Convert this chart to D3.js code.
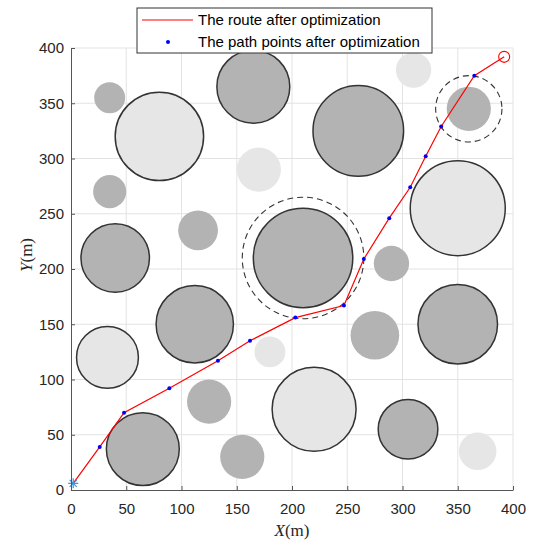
<!DOCTYPE html>
<html>
<head>
<meta charset="utf-8">
<script src="https://cdn.jsdelivr.net/npm/d3@7"></script>
<style>
  body { margin: 0; background: #fff; }
  svg text { font-family: "Liberation Sans", Arial, sans-serif; }
</style>
</head>
<body>
<div class="svg-container"></div>
<script>
// obstacles: centre, radius, shade (0 = dark, 1 = light), outlined (1) or not (0)
var obsX = [35, 80, 165, 170, 260, 310, 360, 35, 115, 40, 210, 290, 350, 112, 180, 275, 350, 33, 125, 220, 65, 155, 305, 368];
var obsY = [355, 320, 365, 290, 325, 380, 345, 270, 235, 210, 210, 205, 255, 150, 125, 140, 150, 120, 80, 73, 37, 30, 55, 35];
var obsR = [14, 40, 33, 20, 41, 16, 20, 15, 18, 31, 45, 16, 43, 35, 14, 22, 36, 28, 20, 38, 33, 20, 27, 17];
var obsShade = [0, 1, 0, 1, 0, 1, 0, 0, 0, 0, 0, 0, 1, 0, 1, 0, 0, 1, 0, 1, 0, 0, 0, 1];
var obsEdge = [0, 1, 1, 0, 1, 0, 0, 0, 0, 1, 1, 0, 1, 1, 0, 0, 1, 1, 0, 1, 1, 0, 1, 0];

// dashed safety rings
var ringX = [210, 360];
var ringY = [210, 345];
var ringR = [55, 30];

// optimized path points
var pathX = [2, 26, 48, 89, 133, 162, 203, 247, 265, 288, 307, 321, 335, 365];
var pathY = [6, 39, 70, 92, 117, 135, 156, 167, 209, 246, 274, 302, 329, 375];
var goal = [392, 392];

var ticks = [0, 50, 100, 150, 200, 250, 300, 350, 400];
var legendLabels = ["The route after optimization", "The path points after optimization"];

var width = 535, height = 545;
var plotLeft = 71, plotTop = 48, plotSize = 442;

var svg = d3.select(".svg-container").append("svg")
    .attr("width", width)
    .attr("height", height);

var x = d3.scaleLinear().domain([0, 400]).range([plotLeft, plotLeft + plotSize]);
var y = d3.scaleLinear().domain([0, 400]).range([plotTop + plotSize, plotTop]);
var k = plotSize / 400;

// grid
svg.append("g").selectAll("line")
    .data(ticks.slice(1)).enter().append("line")
    .attr("x1", d => x(d)).attr("x2", d => x(d))
    .attr("y1", y(0)).attr("y2", y(400))
    .attr("stroke", "#e3e3e3").attr("stroke-width", 1);
svg.append("g").selectAll("line")
    .data(ticks.slice(1)).enter().append("line")
    .attr("x1", x(0)).attr("x2", x(400))
    .attr("y1", d => y(d)).attr("y2", d => y(d))
    .attr("stroke", "#e3e3e3").attr("stroke-width", 1);

// obstacles
var obs = obsX.map((d, i) => ({x: d, y: obsY[i], r: obsR[i], shade: obsShade[i], edge: obsEdge[i]}));
svg.append("g").selectAll("circle")
    .data(obs).enter().append("circle")
    .attr("cx", d => x(d.x))
    .attr("cy", d => y(d.y))
    .attr("r", d => d.r * k)
    .attr("fill", d => d.shade ? "#e6e6e6" : "#b3b3b3")
    .attr("stroke", d => d.edge ? "#333" : "none")
    .attr("stroke-width", 1.5);

// safety rings
svg.append("g").selectAll("circle")
    .data(ringX).enter().append("circle")
    .attr("cx", d => x(d))
    .attr("cy", (d, i) => y(ringY[i]))
    .attr("r", (d, i) => ringR[i] * k)
    .attr("fill", "none")
    .attr("stroke", "#333")
    .attr("stroke-width", 1.1)
    .attr("stroke-dasharray", "6,4");

// route
var route = pathX.map((d, i) => [d, pathY[i]]).concat([goal]);
var line = d3.line().x(d => x(d[0])).y(d => y(d[1]));
svg.append("path")
    .datum(route)
    .attr("d", line)
    .attr("fill", "none")
    .attr("stroke", "#ff0000")
    .attr("stroke-width", 1.2);

// path points (skip the start)
svg.append("g").selectAll("circle")
    .data(route.slice(1, pathX.length)).enter().append("circle")
    .attr("cx", d => x(d[0]))
    .attr("cy", d => y(d[1]))
    .attr("r", 2)
    .attr("fill", "#0000ff");

// start asterisk
var sx = x(pathX[0]), sy = y(pathY[0]);
var star = svg.append("g").attr("transform", "translate(" + sx + "," + sy + ")");
[0, 45, 90, 135].forEach(function(a) {
    star.append("line")
        .attr("x1", -5).attr("x2", 5).attr("y1", 0).attr("y2", 0)
        .attr("transform", "rotate(" + a + ")")
        .attr("stroke", "#3d8fd8").attr("stroke-width", 1.2);
});

// goal
svg.append("circle")
    .attr("cx", x(goal[0])).attr("cy", y(goal[1]))
    .attr("r", 5.5)
    .attr("fill", "none")
    .attr("stroke", "#ff0000")
    .attr("stroke-width", 1.1);

// axes
var xAxis = svg.append("g")
    .attr("transform", "translate(0," + y(0) + ")")
    .call(d3.axisBottom(x).tickValues(ticks).tickSizeInner(-4).tickSizeOuter(0).tickPadding(13));
var yAxis = svg.append("g")
    .attr("transform", "translate(" + x(0) + ",0)")
    .call(d3.axisLeft(y).tickValues(ticks).tickSizeInner(-4).tickSizeOuter(0).tickPadding(7));
[xAxis, yAxis].forEach(function(a) {
    a.select(".domain").attr("stroke", "#555");
    a.selectAll(".tick line").attr("stroke", "#555");
    a.selectAll("text")
        .attr("fill", "#262626")
        .style("font-size", "15px")
        .style("font-family", "'Liberation Sans', Arial, sans-serif");
});

// axis labels
var xl = svg.append("text")
    .attr("x", x(200)).attr("y", 536)
    .attr("text-anchor", "middle")
    .style("font-family", "'Liberation Serif', 'Times New Roman', serif")
    .style("font-size", "17px")
    .attr("fill", "#262626");
xl.append("tspan").style("font-style", "italic").text("X");
xl.append("tspan").text("(m)");

var yl = svg.append("text")
    .attr("transform", "translate(32,255) rotate(-90)")
    .attr("text-anchor", "middle")
    .style("font-family", "'Liberation Serif', 'Times New Roman', serif")
    .style("font-size", "17px")
    .attr("fill", "#262626");
yl.append("tspan").style("font-style", "italic").text("Y");
yl.append("tspan").text("(m)");

// legend
var lg = svg.append("g");
lg.append("rect")
    .attr("x", 137).attr("y", 8)
    .attr("width", 295).attr("height", 45)
    .attr("fill", "#fff")
    .attr("stroke", "#333")
    .attr("stroke-width", 1);
lg.append("line")
    .attr("x1", 142).attr("x2", 193)
    .attr("y1", 20).attr("y2", 20)
    .attr("stroke", "#ff0000").attr("stroke-width", 1.2);
lg.append("circle")
    .attr("cx", 168).attr("cy", 42)
    .attr("r", 2)
    .attr("fill", "#0000ff");
lg.selectAll("text")
    .data(legendLabels).enter().append("text")
    .attr("x", 198)
    .attr("y", (d, i) => 25 + i * 22)
    .style("font-size", "15px")
    .attr("fill", "#000")
    .text(d => d);
</script>
</body>
</html>
